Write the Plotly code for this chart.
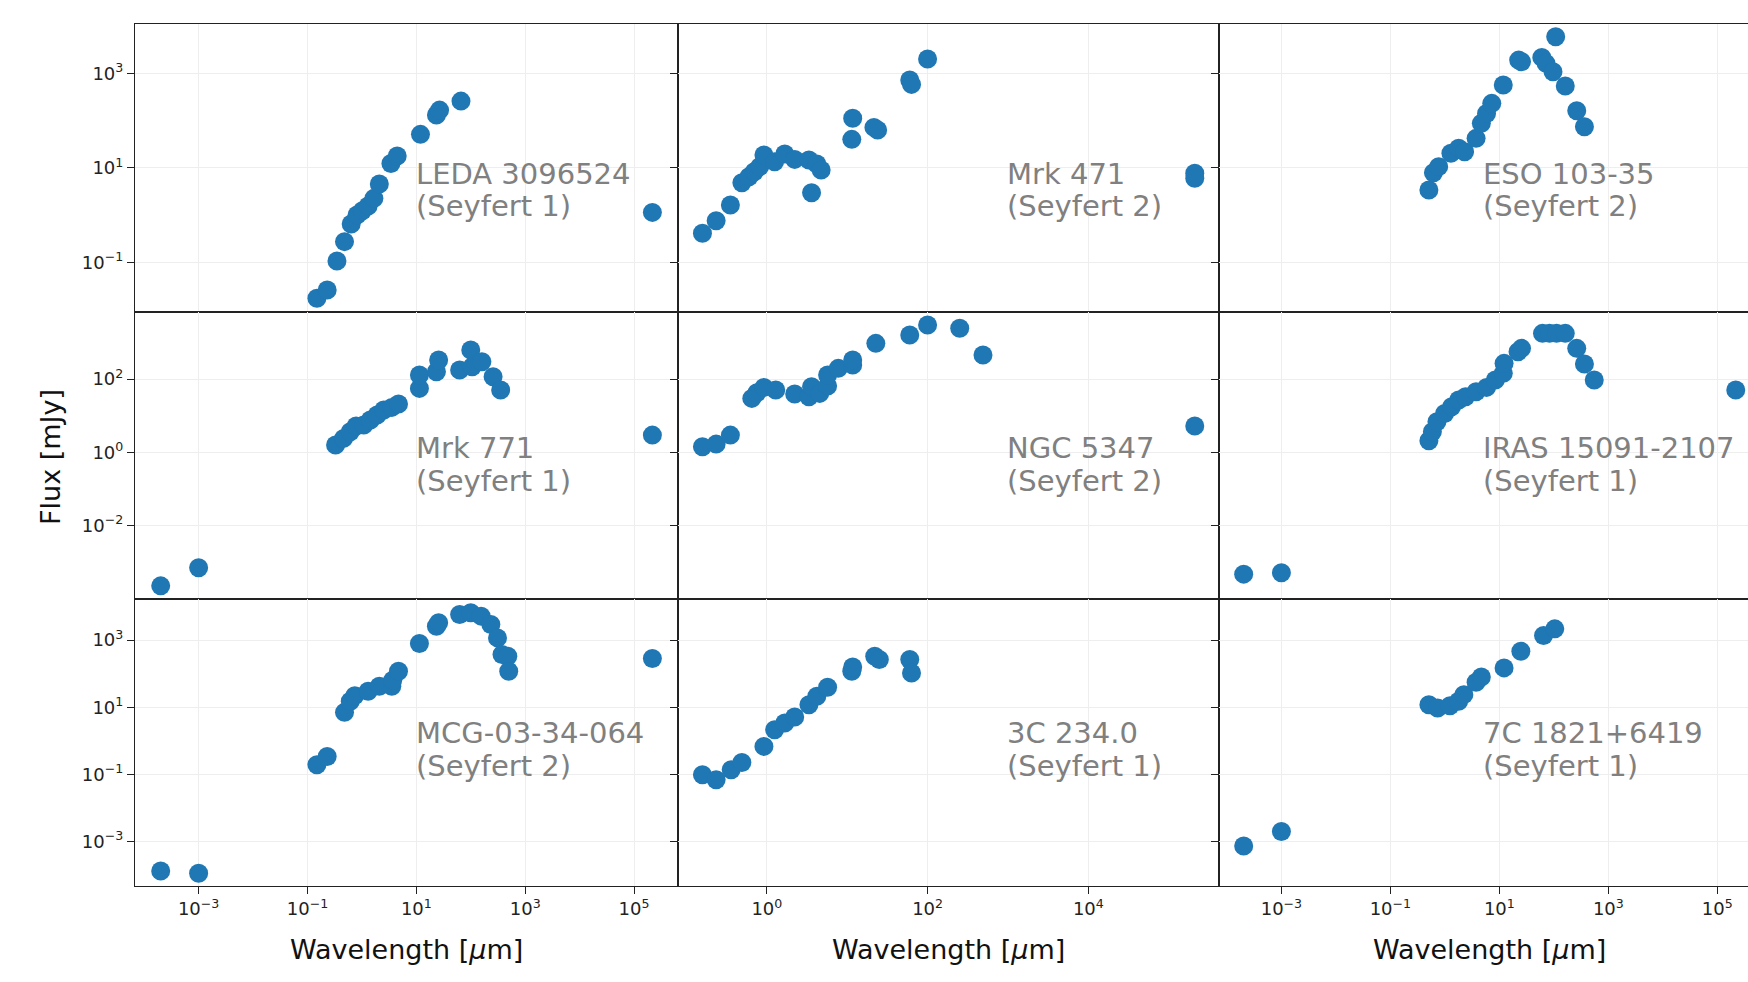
import plotly.graph_objects as go

# ---------------- data (wavelength in micron, flux in mJy) ----------------
names = ["LEDA 3096524", "Mrk 471", "ESO 103-35",
         "Mrk 771", "NGC 5347", "IRAS 15091-2107",
         "MCG-03-34-064", "3C 234.0", "7C 1821+6419"]
types = ["(Seyfert 1)", "(Seyfert 2)", "(Seyfert 2)",
         "(Seyfert 1)", "(Seyfert 2)", "(Seyfert 1)",
         "(Seyfert 2)", "(Seyfert 1)", "(Seyfert 1)"]

wl_leda = [0.149, 0.230, 0.348, 0.479, 0.635, 0.813, 1.02, 1.30, 1.66, 2.09, 3.41, 4.45, 11.9, 23.4, 26.7, 66.1, 2.17e5]
fx_leda = [0.0174, 0.026, 0.107, 0.274, 0.647, 1.00, 1.24, 1.56, 2.26, 4.55, 12.4, 17.8, 51.2, 131, 167, 259, 1.14]

wl_mrk471 = [0.158, 0.234, 0.352, 0.489, 0.600, 0.698, 0.815, 0.920, 1.25, 1.67, 2.22, 3.34, 4.19, 4.74, 3.60, 11.7, 11.4, 21.5, 23.9, 60.0, 63.1, 100, 2.11e5, 2.11e5]
fx_mrk471 = [0.411, 0.762, 1.63, 4.85, 6.50, 8.30, 10.6, 18.7, 13.5, 19.6, 15.1, 14.7, 12.1, 9.0, 2.98, 112, 40.1, 71.9, 63.1, 723, 585, 2010, 7.66, 6.0]

wl_eso = [0.509, 0.617, 0.769, 1.29, 1.79, 2.30, 3.74, 4.67, 5.82, 7.26, 11.8, 22.6, 25.5, 60.1, 71.8, 96.4, 162, 108, 263, 364]
fx_eso = [3.40, 7.91, 10.6, 20.3, 25.9, 22.0, 42.1, 87.5, 142, 232, 566, 1910, 1770, 2180, 1630, 1080, 540, 5970, 162, 74.3]

wl_mrk771 = [2.01e-4, 1e-3, 0.328, 0.461, 0.612, 0.782, 1.08, 1.43, 1.90, 2.52, 3.54, 4.70, 11.4, 11.4, 23.4, 25.7, 62.4, 100, 106, 160, 257, 354, 2.17e5]
fx_mrk771 = [2.24e-4, 6.97e-4, 1.57, 2.39, 3.63, 5.19, 5.53, 7.57, 10.4, 14.2, 16.8, 20.7, 55.6, 129, 158, 330, 176, 621, 217, 298, 116, 50.0, 2.94]

wl_ngc = [0.158, 0.234, 0.352, 0.650, 0.752, 0.920, 1.29, 2.22, 3.34, 3.60, 4.55, 5.70, 5.70, 7.74, 11.7, 11.7, 22.7, 60.0, 100, 251, 489, 2.11e5]
fx_ngc = [1.41, 1.67, 2.94, 29.6, 42.3, 59.2, 50.0, 38.9, 32.9, 61.7, 40.6, 64.4, 129, 196, 242, 330, 944, 1600, 2990, 2430, 453, 5.19]

wl_iras = [2.03e-4, 1e-3, 0.509, 0.590, 0.715, 0.991, 1.33, 1.79, 2.40, 3.74, 5.82, 8.43, 11.8, 12.2, 22.0, 25.5, 61.9, 83.2, 112, 162, 263, 364, 551, 2.18e5]
fx_iras = [4.68e-4, 5.08e-4, 2.06, 3.63, 6.82, 11.5, 17.5, 26.7, 32.9, 45.1, 59.2, 94.0, 143, 268, 558, 689, 1770, 1770, 1770, 1770, 689, 257, 94.0, 50.0]

wl_mcg = [2.01e-4, 1e-3, 0.149, 0.230, 0.479, 0.612, 0.740, 1.30, 2.09, 3.54, 3.68, 4.70, 11.4, 23.4, 25.7, 62.4, 100, 155, 234, 310, 375, 479, 498, 2.17e5]
fx_mcg = [1.29e-4, 1.10e-4, 0.191, 0.339, 7.01, 15.0, 22.1, 29.9, 42.1, 42.1, 63.7, 118, 794, 2620, 3300, 5860, 6580, 5220, 2940, 1170, 372, 332, 118, 283]

wl_3c = [0.158, 0.234, 0.360, 0.489, 0.920, 1.25, 1.67, 2.22, 3.34, 4.19, 5.70, 11.4, 11.7, 22.0, 25.1, 60.0, 63.1]
fx_3c = [0.0959, 0.0679, 0.136, 0.224, 0.676, 2.13, 3.37, 5.09, 11.9, 21.1, 39.3, 118, 159, 332, 264, 264, 105]

wl_7c = [2.03e-4, 1e-3, 0.509, 0.736, 1.24, 1.79, 2.23, 3.74, 4.67, 12.2, 24.8, 64.7, 104]
fx_7c = [7.23e-4, 1.94e-3, 11.9, 9.46, 11.1, 15.0, 23.7, 55.5, 80.0, 149, 469, 1380, 2180]

wavelengths = [wl_leda, wl_mrk471, wl_eso, wl_mrk771, wl_ngc, wl_iras, wl_mcg, wl_3c, wl_7c]
fluxes = [fx_leda, fx_mrk471, fx_eso, fx_mrk771, fx_ngc, fx_iras, fx_mcg, fx_3c, fx_7c]

# tick labels
x_tickvals = [[1e-3, 1e-1, 1e1, 1e3, 1e5], [1e0, 1e2, 1e4], [1e-3, 1e-1, 1e1, 1e3, 1e5]]
x_ticktext = [["10<sup>−3</sup>", "10<sup>−1</sup>", "10<sup>1</sup>", "10<sup>3</sup>", "10<sup>5</sup>"],
              ["10<sup>0</sup>", "10<sup>2</sup>", "10<sup>4</sup>"],
              ["10<sup>−3</sup>", "10<sup>−1</sup>", "10<sup>1</sup>", "10<sup>3</sup>", "10<sup>5</sup>"]]
y_tickvals = [[1e-1, 1e1, 1e3], [1e-2, 1e0, 1e2], [1e-3, 1e-1, 1e1, 1e3]]
y_ticktext = [["10<sup>−1</sup>", "10<sup>1</sup>", "10<sup>3</sup>"],
              ["10<sup>−2</sup>", "10<sup>0</sup>", "10<sup>2</sup>"],
              ["10<sup>−3</sup>", "10<sup>−1</sup>", "10<sup>1</sup>", "10<sup>3</sup>"]]

# ---------------- layout geometry ----------------
W, H = 1748, 982
col_dom = [[0.0772, 0.3878], [0.3878, 0.6971], [0.6971, 1.0]]
row_dom = [[0.6826, 0.9753], [0.3896, 0.6826], [0.0981, 0.3896]]
x_ranges = [[-4.17, 5.805], [-1.107, 5.62], [-4.154, 5.563]]
y_ranges = [[-2.045, 4.04], [-4.02, 3.84], [-4.327, 4.217]]

text_x_px = [414, 1005, 1481]
text_y1_px = [173.7, 448.3, 733.3]
line_gap_px = 32.3

FONT = "DejaVu Sans"
BLUE = "#1f77b4"

fig = go.Figure()
layout = dict(
    width=W, height=H,
    margin=dict(l=0, r=0, t=0, b=0),
    paper_bgcolor="white", plot_bgcolor="white",
    showlegend=False,
    font=dict(family=FONT, color="#222222", size=18),
)
annotations = []

for r in range(3):
    for c in range(3):
        k = r * 3 + c
        idx = "" if k == 0 else str(k + 1)
        xa, ya = "x" + idx, "y" + idx
        fig.add_trace(go.Scatter(
            x=wavelengths[k], y=fluxes[k], mode="markers",
            marker=dict(size=19, color=BLUE, line=dict(width=0)),
            xaxis=xa, yaxis=ya, hoverinfo="x+y"))
        bottom = (r == 2)
        layout["xaxis" + idx] = dict(
            type="log", domain=col_dom[c], range=x_ranges[c], anchor=ya,
            tickmode="array", tickvals=x_tickvals[c], ticktext=x_ticktext[c],
            showticklabels=bottom, ticks="outside" if bottom else "",
            ticklen=7, tickwidth=1, tickcolor="#222222",
            tickfont=dict(size=18, family=FONT, color="#222222"),
            showgrid=True, gridcolor="#eeeeee", gridwidth=1,
            showline=True, linecolor="#222222", linewidth=1, mirror=True,
            zeroline=False)
        layout["yaxis" + idx] = dict(
            type="log", domain=row_dom[r], range=y_ranges[r], anchor=xa,
            tickmode="array", tickvals=y_tickvals[r], ticktext=y_ticktext[r],
            showticklabels=(c == 0), ticks="outside",
            ticklen=7, tickwidth=1, tickcolor="#222222",
            tickfont=dict(size=18, family=FONT, color="#222222"),
            showgrid=True, gridcolor="#eeeeee", gridwidth=1,
            showline=True, linecolor="#222222", linewidth=1,
            mirror=(c != 2), zeroline=False)
        # panel labels
        annotations.append(dict(
            text=names[k], xref="paper", yref="paper",
            x=text_x_px[c] / W, y=1 - text_y1_px[r] / H,
            xanchor="left", yanchor="middle", showarrow=False,
            font=dict(size=29, family=FONT, color="#808080")))
        annotations.append(dict(
            text=types[k], xref="paper", yref="paper",
            x=text_x_px[c] / W, y=1 - (text_y1_px[r] + line_gap_px) / H,
            xanchor="left", yanchor="middle", showarrow=False,
            font=dict(size=29, family=FONT, color="#808080")))

# axis titles
col_center_px = [406, 948, 1489]
for c in range(3):
    annotations.append(dict(
        text="Wavelength [<i>μ</i>m]", xref="paper", yref="paper",
        x=col_center_px[c] / W, y=1 - 949 / H, xanchor="center", yanchor="middle",
        showarrow=False, font=dict(size=27, family=FONT, color="#111111")))
annotations.append(dict(
    text="Flux [mJy]", xref="paper", yref="paper",
    x=50 / W, y=1 - 457 / H, xanchor="center", yanchor="middle",
    textangle=-90, showarrow=False,
    font=dict(size=27, family=FONT, color="#111111")))

layout["annotations"] = annotations
fig.update_layout(**layout)
fig.write_html("out.html")
